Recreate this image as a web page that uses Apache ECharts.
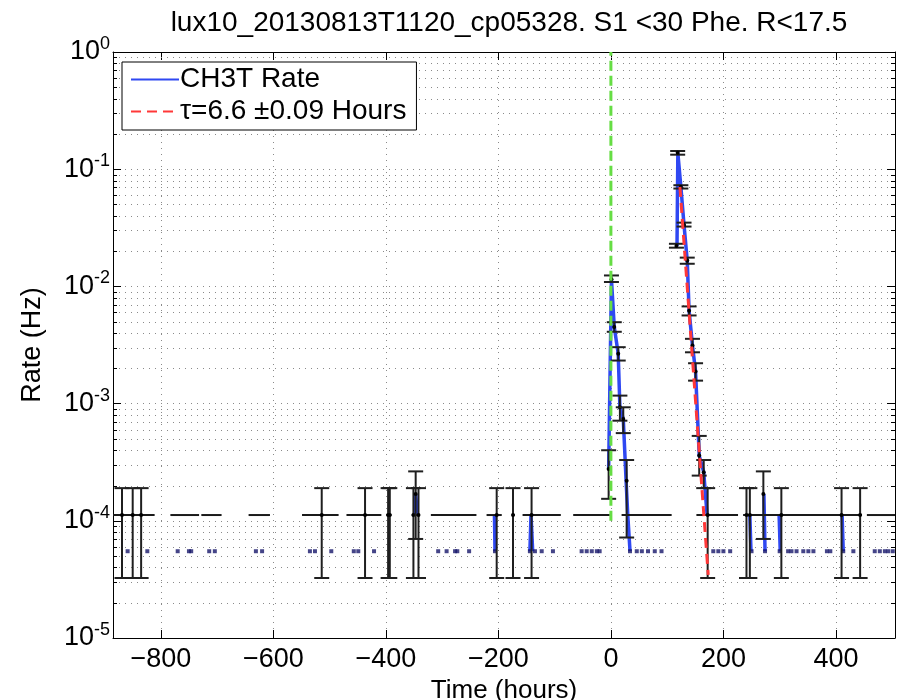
<!DOCTYPE html>
<html>
<head>
<meta charset="utf-8">
<title>CH3T rate</title>
<script src="https://cdn.jsdelivr.net/npm/echarts@6/dist/echarts.min.js"></script>
<style>
  html, body { margin: 0; padding: 0; background: #fff; }
  #chart { width: 900px; height: 700px; }
</style>
</head>
<body>
<div id="chart"></div>
<script>
// rate levels of the sparse bins (Hz)
const RATE_TWO = 1.12e-4;
const RATE_ONE = 5.5e-5;
const STD_ERR_LO = 3.25e-5;
const STD_ERR_HI = 1.9e-4;

const xTicks = [-800, -600, -400, -200, 0, 200, 400];

// black connecting line at RATE_TWO: [start, end] in hours
const levelSegments = [
    [-885, -811], [-783, -732], [-728, -692], [-644, -606], [-549, -484],
    [-470, -408], [-399, -390], [-354, -340], [-320, -239], [-221, -194],
    [-175, -171], [-157, -89], [-67, -2], [19, 108], [152, 226],
    [235, 446], [455, 505]
];

// isolated single-count bins drawn at RATE_ONE
const singleCountTimes = [
    -859, -824, -770, -750, -746, -714, -704, -631, -620, -535, -526, -497,
    -457, -449, -421, -307, -292, -277, -273, -252, -206, -144, -135, -123,
    -103, -52, -43, -34, -25, -20, 34, 46, 55, 66, 78, 90,
    182, 191, 200, 212, 250, 274, 300, 315, 321, 330, 342, 351, 360,
    384, 390, 413, 431, 469, 478, 487, 493, 501
];

// error bars of the RATE_TWO bins
const stdErrTimes = [
    -869, -850, -835, -514, -437, -396, -393, -351, -342, -203, -174, -141,
    172, 241, 247, 303, 410, 443
];

// [time, rate, low, high]
const pointErrors = [
    [-347, 1.69e-4, 7.0e-5, 2.64e-4],
    [271, 1.69e-4, 7.0e-5, 2.64e-4],
    [-4, 2.77e-4, 1.54e-4, 4.0e-4],
    [1, 1.15e-2, 1.09e-2, 1.24e-2],
    [6, 4.5e-3, 4.1e-3, 4.95e-3],
    [13, 2.66e-3, 2.33e-3, 3.03e-3],
    [16, 9.3e-4, 7.15e-4, 1.17e-3],
    [22, 7.4e-4, 5.6e-4, 9.3e-4],
    [28, 2.2e-4, 7.2e-5, 3.3e-4],
    [116.5, 0.0221, 0.0214, 0.0231],
    [118.7, 0.138, 0.133, 0.143],
    [124.4, 0.0706, 0.0684, 0.073],
    [130, 0.0334, 0.0324, 0.035],
    [135.7, 0.0166, 0.0156, 0.0176],
    [139, 6.2e-3, 5.65e-3, 6.75e-3],
    [145, 3.13e-3, 2.74e-3, 3.57e-3],
    [150.5, 1.88e-3, 1.57e-3, 2.21e-3],
    [157, 3.6e-4, 2.43e-4, 5.3e-4],
    [165, 2.6e-4, 1.9e-4, 3.3e-4]
];

// CH3T rate trace, one run per connected stretch
const rateRuns = [
    [[-349, RATE_TWO], [-347, 1.69e-4], [-344, RATE_TWO]],
    [[-207, RATE_TWO], [-206, RATE_ONE]],
    [[-144, RATE_ONE], [-142, RATE_TWO], [-139, RATE_ONE]],
    [[-4, 2.77e-4], [1, 1.15e-2], [6, 4.5e-3], [13, 2.66e-3], [16, 9.3e-4],
     [22, 7.4e-4], [27, 2.2e-4], [30, RATE_TWO], [34, RATE_ONE]],
    [[117.5, 0.0221], [119, 0.138], [124.4, 0.0706], [130, 0.0334],
     [135.7, 0.0166], [139, 6.2e-3], [145, 3.13e-3], [150.5, 1.88e-3],
     [157, 3.6e-4], [165, 2.6e-4], [171, RATE_TWO]],
    [[247, RATE_TWO], [249, RATE_ONE]],
    [[272, 1.69e-4], [274, RATE_ONE]],
    [[299, RATE_TWO], [301, RATE_ONE]],
    [[411, RATE_TWO], [413, RATE_ONE]]
];

// exponential fit, tau = 6.6 h (straight on the log axis)
const fitTimes = [122.7, 173];
const fitRates = [0.0706, 3.46e-5];

const injectionTime = 0;
const injectionRates = [1e-4, 1];

const X_MIN = -885, X_MAX = 505;
const FONT = 'Liberation Sans, Arial, Helvetica, sans-serif';

const chart = echarts.init(document.getElementById('chart'));

// trace with breaks between runs
const traceData = [];
rateRuns.forEach(run => {
    run.forEach(p => traceData.push(p));
    traceData.push([run[run.length - 1][0], '-']);
});

// minor log grid values 2..9 x 10^k
const minorValues = [];
for (let k = -5; k < 0; k++) {
    for (let m = 2; m <= 9; m++) minorValues.push([X_MIN, m * Math.pow(10, k)]);
}

const dotted = { color: '#8a8a8a', width: 1, type: [1, 5] };

function renderMinorGrid(params, api) {
    const cs = params.coordSys;
    const y = Math.round(api.coord([X_MIN, api.value(1)])[1]) + 0.5;
    return {
        type: 'group',
        children: [
            { type: 'line', shape: { x1: cs.x, y1: y, x2: cs.x + cs.width, y2: y },
              style: { stroke: dotted.color, lineWidth: 1, lineDash: dotted.type } },
            { type: 'line', shape: { x1: cs.x, y1: y, x2: cs.x + 4, y2: y },
              style: { stroke: '#000', lineWidth: 1 } },
            { type: 'line', shape: { x1: cs.x + cs.width - 4, y1: y, x2: cs.x + cs.width, y2: y },
              style: { stroke: '#000', lineWidth: 1 } }
        ]
    };
}

function renderLevel(params, api) {
    const a = api.coord([api.value(0), api.value(2)]);
    const b = api.coord([api.value(1), api.value(2)]);
    return { type: 'line', shape: { x1: a[0], y1: a[1], x2: b[0], y2: b[1] },
             style: { stroke: '#1a1a1a', lineWidth: 2 } };
}

function renderErrorBar(params, api) {
    const t = api.value(0);
    const mid = api.coord([t, api.value(1)]);
    const lo = api.coord([t, api.value(2)]);
    const hi = api.coord([t, api.value(3)]);
    const w = 7.5;
    const st = { stroke: '#1f1f1f', lineWidth: 2 };
    return {
        type: 'group',
        children: [
            { type: 'line', shape: { x1: lo[0], y1: lo[1], x2: hi[0], y2: hi[1] }, style: st },
            { type: 'line', shape: { x1: lo[0] - w, y1: lo[1], x2: lo[0] + w, y2: lo[1] }, style: st },
            { type: 'line', shape: { x1: hi[0] - w, y1: hi[1], x2: hi[0] + w, y2: hi[1] }, style: st },
            { type: 'circle', shape: { cx: mid[0], cy: mid[1], r: 2 }, style: { fill: '#000' } }
        ]
    };
}

const errData = stdErrTimes.map(t => [t, RATE_TWO, STD_ERR_LO, STD_ERR_HI]).concat(pointErrors);

const option = {
    animation: false,
    backgroundColor: '#fff',
    textStyle: { fontFamily: FONT },
    title: {
        text: 'lux10_20130813T1120_cp05328. S1 <30 Phe. R<17.5',
        left: 504,
        textAlign: 'center',
        top: 4,
        textStyle: { fontFamily: FONT, fontSize: 28, fontWeight: 'normal', color: '#000' }
    },
    legend: {
        data: ['CH3T Rate', 'τ=6.6 ±0.09 Hours'],
        orient: 'vertical',
        left: 122,
        top: 62,
        itemWidth: 48,
        itemHeight: 14,
        itemGap: 3,
        padding: [3, 10, 4, 8],
        backgroundColor: '#fff',
        borderColor: '#000',
        borderWidth: 1,
        borderRadius: 0,
        itemStyle: { color: 'transparent', borderColor: 'transparent', borderWidth: 0, opacity: 0 },
        textStyle: { fontFamily: FONT, fontSize: 28, color: '#000', lineHeight: 29, padding: [0, 0, 0, -4] }
    },
    grid: { left: 113, right: 5, top: 52, bottom: 62, outerBoundsMode: 'none', containLabel: false },
    xAxis: [{
        type: 'value',
        min: X_MIN,
        max: X_MAX,
        name: 'Time (hours)',
        nameLocation: 'middle',
        nameGap: 31,
        nameTextStyle: { fontFamily: FONT, fontSize: 26, color: '#000' },
        axisLine: { onZero: false, lineStyle: { color: '#000', width: 1 } },
        axisTick: { inside: true, length: 8, customValues: xTicks, lineStyle: { color: '#000' } },
        axisLabel: {
            customValues: xTicks,
            margin: 8,
            fontFamily: FONT,
            fontSize: 27,
            color: '#000',
            formatter: v => (v < 0 ? '\u2212' + Math.abs(v) : String(v))
        },
        splitLine: { show: true, lineStyle: dotted }
    }, {
        type: 'value',
        position: 'top',
        min: X_MIN,
        max: X_MAX,
        axisLine: { onZero: false, lineStyle: { color: '#000', width: 1 } },
        axisTick: { inside: true, length: 8, customValues: xTicks, lineStyle: { color: '#000' } },
        axisLabel: { show: false, customValues: xTicks },
        splitLine: { show: false }
    }],
    yAxis: [{
        type: 'log',
        logBase: 10,
        min: 1e-5,
        max: 1,
        interval: 1,
        name: 'Rate (Hz)',
        nameLocation: 'middle',
        nameGap: 67,
        nameTextStyle: { fontFamily: FONT, fontSize: 27, color: '#000' },
        axisLine: { onZero: false, lineStyle: { color: '#000', width: 1 } },
        axisTick: { inside: true, length: 8, lineStyle: { color: '#000' } },
        axisLabel: {
            margin: 3,
            formatter: v => '{b|10}{s|' + Math.round(Math.log10(v)) + '}',
            rich: {
                b: { fontFamily: FONT, fontSize: 27, color: '#000' },
                s: { fontFamily: FONT, fontSize: 18, color: '#000', padding: [0, 0, 16, 0] }
            }
        },
        splitLine: { show: true, lineStyle: dotted }
    }, {
        type: 'log',
        logBase: 10,
        min: 1e-5,
        max: 1,
        interval: 1,
        position: 'right',
        axisLine: { onZero: false, lineStyle: { color: '#000', width: 1 } },
        axisTick: { inside: true, length: 8, lineStyle: { color: '#000' } },
        axisLabel: { show: false },
        splitLine: { show: false }
    }],
    series: [
        {
            name: 'minor grid',
            type: 'custom',
            renderItem: renderMinorGrid,
            data: minorValues,
            encode: { x: 0, y: 1 },
            silent: true,
            z: 1
        },
        {
            name: 'CH3T Rate',
            type: 'line',
            data: traceData,
            showSymbol: false,
            symbol: 'none',
            connectNulls: false,
            lineStyle: { color: '#2f48f2', width: 3.5 },
            itemStyle: { color: '#2f48f2' },
            z: 2
        },
        {
            name: 'single counts',
            type: 'scatter',
            data: singleCountTimes.map(t => [t, RATE_ONE]),
            symbol: 'rect',
            symbolSize: 4,
            itemStyle: { color: '#16166a' },
            z: 3
        },
        {
            name: 'level',
            type: 'custom',
            renderItem: renderLevel,
            data: levelSegments.map(s => [s[0], s[1], RATE_TWO]),
            encode: { x: [0, 1], y: 2 },
            z: 4
        },
        {
            name: 'errors',
            type: 'custom',
            renderItem: renderErrorBar,
            data: errData,
            encode: { x: 0, y: [1, 2, 3] },
            z: 5
        },
        {
            name: 'τ=6.6 ±0.09 Hours',
            type: 'line',
            data: fitTimes.map((t, i) => [t, fitRates[i]]),
            showSymbol: false,
            symbol: 'none',
            lineStyle: { color: '#ff3838', width: 3, type: [10, 6] },
            itemStyle: { color: '#ff3838' },
            z: 6
        },
        {
            name: 'injection',
            type: 'line',
            data: injectionRates.map(r => [injectionTime, r]),
            showSymbol: false,
            symbol: 'none',
            lineStyle: { color: '#66dd44', width: 3, type: [10, 5] },
            z: 7
        }
    ]
};

chart.setOption(option);
window.addEventListener('resize', () => chart.resize());
</script>
</body>
</html>
